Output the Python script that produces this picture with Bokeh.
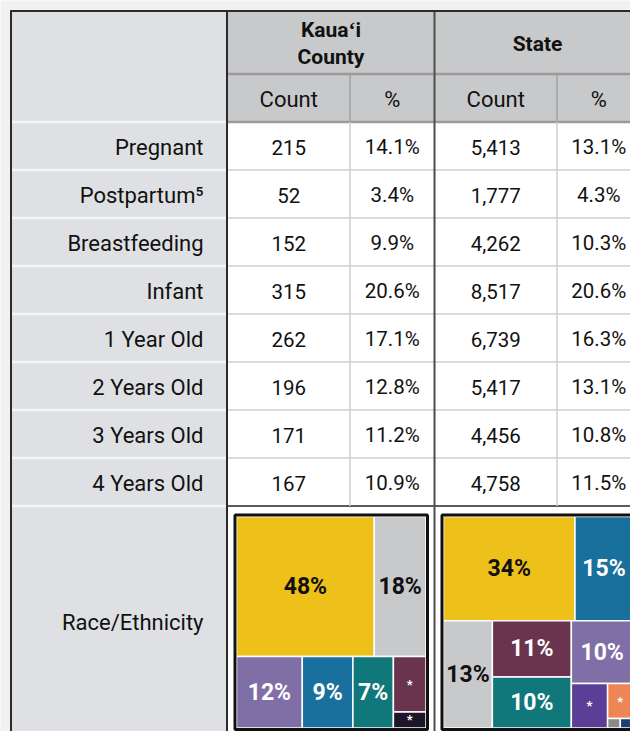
from bokeh.plotting import figure
from bokeh.models import Range1d, ColumnDataSource
from bokeh.core.properties import value
from bokeh.embed import file_html
from bokeh.resources import INLINE

# ---------------- data ----------------
categories = ["Pregnant", "Postpartum\u2075", "Breastfeeding", "Infant",
              "1 Year Old", "2 Years Old", "3 Years Old", "4 Years Old"]
kauai_count = [215, 52, 152, 315, 262, 196, 171, 167]
kauai_pct = [14.1, 3.4, 9.9, 20.6, 17.1, 12.8, 11.2, 10.9]
state_count = [5413, 1777, 4262, 8517, 6739, 5417, 4456, 4758]
state_pct = [13.1, 4.3, 10.3, 20.6, 16.3, 13.1, 10.8, 11.5]

region_names = ["Kaua\u02bbi\nCounty", "State"]
sub_headers = ["Count", "%"]
race_label = "Race/Ethnicity"

# race/ethnicity treemap shares (estimated from the areas; '*' = suppressed)
kauai_race_share = [48, 18, 11.7, 9, 7.2, 4.5, 1.3]
kauai_race_text = ["48%", "18%", "12%", "9%", "7%", "*", "*"]
state_race_share = [34, 15, 13, 11, 10, 9.6, 4, 2.2, 0.3, 0.3]
state_race_text = ["34%", "15%", "13%", "11%", "10%", "10%", "*", "*", "", ""]

# ---------------- style ----------------
FONT = value("Roboto")
YELLOW, LGRAY, LAV, BLUE, TEAL, MAROON, DARK = "#eec11a", "#c8c9cb", "#7f6fa6", "#19709c", "#10777a", "#6a344f", "#1f1528"
VIOLET, ORANGE, MGRAY, NAVY = "#5b3f97", "#ee8554", "#8a8a8a", "#1d3f73"
kauai_colors = [YELLOW, LGRAY, LAV, BLUE, TEAL, MAROON, DARK]
state_colors = [YELLOW, BLUE, LGRAY, MAROON, TEAL, LAV, VIOLET, ORANGE, MGRAY, NAVY]
DARK_TXT = {YELLOW, LGRAY}

# nested slice/dice structure of each treemap ("h" = side by side, "v" = stacked)
kauai_tree = ("v", [("h", [0, 1]), ("h", [2, 3, 4, ("v", [5, 6])])])
state_tree = ("v", [("h", [0, 1]),
                    ("h", [2, ("v", [3, 4]),
                           ("v", [5, ("h", [6, ("v", [7, ("h", [8, 9])])])])])])

# layout (page pixels)
LBL_L, LBL_R = 11, 226.5
COL_EDGES = [227, 349.5, 434, 556.5, 645]
HDR_MID, HDR_B = 73.5, 121.5
ROW_H = 48
BOTTOM = 760

p = figure(width=630, height=731, x_range=Range1d(0, 630), y_range=Range1d(731, 0),
           output_backend="svg", toolbar_location=None, min_border=0,
           x_axis_type=None, y_axis_type=None)
p.outline_line_color = None
p.background_fill_color = "#f1f1f1"
p.border_fill_color = "#f1f1f1"

n = len(categories)
body_b = HDR_B + ROW_H * n

# backgrounds
p.quad(left=[LBL_L], right=[LBL_R], top=[11], bottom=[BOTTOM], fill_color="#dfe0e4", line_color=None)
p.quad(left=[COL_EDGES[0]], right=[COL_EDGES[-1]], top=[11], bottom=[HDR_B], fill_color="#c8c9cb", line_color=None)
p.quad(left=[COL_EDGES[0]], right=[COL_EDGES[-1]], top=[HDR_B], bottom=[BOTTOM], fill_color="white", line_color=None)

# label-column row separators
ys = [HDR_B + ROW_H * k for k in range(n + 1)]
p.segment(x0=[LBL_L] * len(ys), x1=[LBL_R] * len(ys), y0=ys, y1=ys, line_color="#f5f5f7", line_width=2.5)
# data row separators
ys_in = ys[1:-1]
p.segment(x0=[COL_EDGES[0]] * len(ys_in), x1=[COL_EDGES[-1]] * len(ys_in), y0=ys_in, y1=ys_in,
          line_color="#cfcfcf", line_width=1.5)
p.segment(x0=[COL_EDGES[0]] * 2, x1=[COL_EDGES[-1]] * 2, y0=[HDR_MID, HDR_B], y1=[HDR_MID, HDR_B],
          line_color="#9a9a9a", line_width=2.5)
p.segment(x0=[COL_EDGES[0]], x1=[COL_EDGES[-1]], y0=[body_b], y1=[body_b], line_color="#5c5c5c", line_width=2)
# sub-column separators
subx = [COL_EDGES[1], COL_EDGES[3]]
p.segment(x0=subx, x1=subx, y0=[HDR_MID] * 2, y1=[HDR_B] * 2, line_color="#a2a2a2", line_width=1.5)
p.segment(x0=subx, x1=subx, y0=[HDR_B] * 2, y1=[body_b] * 2, line_color="#cfcfcf", line_width=1.5)
# dark separators
p.segment(x0=[COL_EDGES[2]], x1=[COL_EDGES[2]], y0=[11], y1=[BOTTOM], line_color="#4d4d4d", line_width=2)
p.segment(x0=[LBL_R], x1=[LBL_R], y0=[10], y1=[BOTTOM], line_color="#2b2b2b", line_width=2)
p.segment(x0=[10.5, 10], x1=[10.5, 650], y0=[10, 10.5], y1=[BOTTOM, 10.5], line_color="#2b2b2b", line_width=2)

# row labels
row_y = [HDR_B + ROW_H * (i + 0.5) + 1 for i in range(n)]
race_y = 622
p.text(x=[203] * (n + 1), y=row_y + [race_y], text=categories + [race_label], text_font=FONT,
       text_font_size="22px", text_align="right", text_baseline="middle", text_color="#111111")

# header texts
centers = [(COL_EDGES[i] + COL_EDGES[i + 1]) / 2 for i in range(4)]
region_c = [(COL_EDGES[0] + COL_EDGES[2]) / 2, (COL_EDGES[2] + 640) / 2]
sub_c = [centers[0], centers[1], centers[2], (COL_EDGES[3] + 640) / 2]
p.text(x=region_c, y=[43, 43], text=region_names, text_font=FONT, text_font_size="21px",
       text_font_style="bold", text_align="center", text_baseline="middle", text_color="#111111",
       text_line_height=1.1)
p.text(x=sub_c, y=[99] * 4, text=sub_headers * 2, text_font=FONT, text_font_size="22px",
       text_align="center", text_baseline="middle", text_color="#111111")

# table values
cols = [[f"{v:,}" for v in kauai_count], [f"{v:.1f}%" for v in kauai_pct],
        [f"{v:,}" for v in state_count], [f"{v:.1f}%" for v in state_pct]]
xs, yv, tv = [], [], []
for ci, col in enumerate(cols):
    for ri, t in enumerate(col):
        xs.append(sub_c[ci]); yv.append(row_y[ri]); tv.append(t)
p.text(x=xs, y=yv, text=tv, text_font=FONT, text_font_size="20.5px", text_align="center",
       text_baseline="middle", text_color="#111111")


# ---------------- treemaps ----------------
def node_sum(node, vals):
    if isinstance(node, int):
        return vals[node]
    return sum(node_sum(k, vals) for k in node[1])


def layout(node, vals, x0, y0, x1, y1, out):
    if isinstance(node, int):
        out[node] = (x0, y0, x1, y1)
        return
    kind, kids = node
    tot = node_sum(node, vals)
    pos = x0 if kind == "h" else y0
    for k in kids:
        s = node_sum(k, vals)
        if kind == "h":
            w = (x1 - x0) * s / tot
            layout(k, vals, pos, y0, pos + w, y1, out)
        else:
            w = (y1 - y0) * s / tot
            layout(k, vals, x0, pos, x1, pos + w, out)
        pos += w


def draw_treemap(tree, vals, texts, colors, box):
    x0, y0, x1, y1 = box
    out = {}
    layout(tree, vals, x0, y0, x1, y1, out)
    idx = sorted(out)
    src = ColumnDataSource(dict(
        l=[out[i][0] for i in idx], r=[out[i][2] for i in idx],
        t=[out[i][1] for i in idx], b=[out[i][3] for i in idx],
        c=[colors[i] for i in idx],
        cx=[(out[i][0] + out[i][2]) / 2 for i in idx],
        cy=[(out[i][1] + out[i][3]) / 2 for i in idx],
        txt=[texts[i] for i in idx],
        tc=["#111111" if colors[i] in DARK_TXT else "white" for i in idx],
        fs=["13px" if texts[i] == "*" else "23px" for i in idx],
    ))
    p.quad(left=[x0], right=[x1], top=[y0], bottom=[y1], fill_color="white", line_color=None)
    p.quad(left="l", right="r", top="t", bottom="b", fill_color="c", line_color="white",
           line_width=1.5, source=src)
    p.text(x="cx", y="cy", text="txt", text_color="tc", text_font_size="fs", text_font=FONT,
           text_font_style="bold", text_align="center", text_baseline="middle", source=src)
    p.quad(left=[x0 - 1.5], right=[x1 + 1.5], top=[y0 - 1.5], bottom=[y1 + 1.5], fill_color=None,
           line_color="#111111", line_width=3)


draw_treemap(kauai_tree, kauai_race_share, kauai_race_text, kauai_colors, (236, 516, 425.5, 727.5))
draw_treemap(state_tree, state_race_share, state_race_text, state_colors, (443, 516, 632.5, 727.5))

open("out.html", "w").write(file_html(p, INLINE))
